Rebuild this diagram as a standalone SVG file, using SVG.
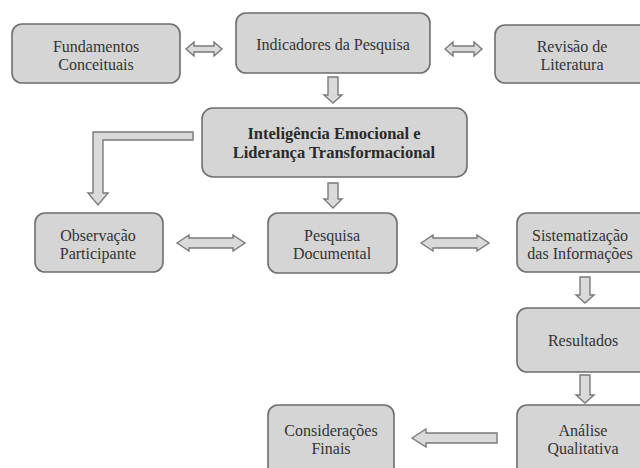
<svg xmlns="http://www.w3.org/2000/svg" width="640" height="468" viewBox="0 0 640 468">
<style>
.box{fill:#d5d5d5;stroke:#6e6e6e;stroke-width:1.6}
.arr{fill:#dadada;stroke:#7a7a7a;stroke-width:1.4;stroke-linejoin:miter}
text{font-family:"Liberation Serif","Times New Roman",serif;font-size:16px;fill:#333333;text-anchor:middle}
.b{font-weight:bold;font-size:16.5px;fill:#2a2a2a}
</style>
<rect width="640" height="468" fill="#ffffff"/>
<g id="connectors">
<polygon class="arr" points="186,49 194,42 194,46 214,46 214,42 222,49 214,56 214,52 194,52 194,56"/>
<polygon class="arr" points="445,49 453,42 453,46 474,46 474,42 482,49 474,56 474,52 453,52 453,56"/>
<polygon class="arr" points="328,77 338,77 338,95 342,95 333,103 324,95 328,95"/>
<polygon class="arr" points="193,132 93,132 93,193 88,193 98,205 108,193 103,193 103,140 193,140"/>
<polygon class="arr" points="328,183 338,183 338,199 342,199 333,208 324,199 328,199"/>
<polygon class="arr" points="177,243 189,235 189,238 233,238 233,235 245,243 233,251 233,248 189,248 189,251"/>
<polygon class="arr" points="421,243 433,235 433,238 477,238 477,235 489,243 477,251 477,248 433,248 433,251"/>
<polygon class="arr" points="580,277 590,277 590,295 594,295 585,303 576,295 580,295"/>
<polygon class="arr" points="580,375 590,375 590,395 594,395 585,403 576,395 580,395"/>
<polygon class="arr" points="412,438 426,429 426,433 497,433 497,443 426,443 426,447"/>
</g>
<g id="fundamentos"><rect class="box" x="12" y="24" width="168" height="59" rx="10"/><text x="96" y="52">Fundamentos</text><text x="96" y="70">Conceituais</text></g>
<g id="indicadores"><rect class="box" x="236" y="13" width="194" height="60" rx="10"/><text x="333" y="50">Indicadores da Pesquisa</text></g>
<g id="revisao"><rect class="box" x="495" y="25" width="165" height="58" rx="10"/><text x="572" y="52">Revisão de</text><text x="572" y="70">Literatura</text></g>
<g id="inteligencia"><rect class="box" x="202" y="108" width="265" height="69" rx="11"/><text class="b" x="334" y="139">Inteligência Emocional e</text><text class="b" x="334" y="158">Liderança Transformacional</text></g>
<g id="observacao"><rect class="box" x="35" y="213" width="128" height="59" rx="10"/><text x="98" y="241">Observação</text><text x="98" y="259">Participante</text></g>
<g id="pesquisa"><rect class="box" x="268" y="213" width="129" height="60" rx="10"/><text x="332" y="241">Pesquisa</text><text x="332" y="259">Documental</text></g>
<g id="sistematizacao"><rect class="box" x="517" y="213" width="143" height="59" rx="10"/><text x="580" y="241">Sistematização</text><text x="580" y="259">das Informações</text></g>
<g id="resultados"><rect class="box" x="517" y="308" width="143" height="64" rx="10"/><text x="583" y="346">Resultados</text></g>
<g id="analise"><rect class="box" x="517" y="405" width="143" height="75" rx="10"/><text x="583" y="436">Análise</text><text x="583" y="454">Qualitativa</text></g>
<g id="consideracoes"><rect class="box" x="268" y="405" width="126" height="75" rx="10"/><text x="331" y="436">Considerações</text><text x="331" y="454">Finais</text></g>
</svg>
